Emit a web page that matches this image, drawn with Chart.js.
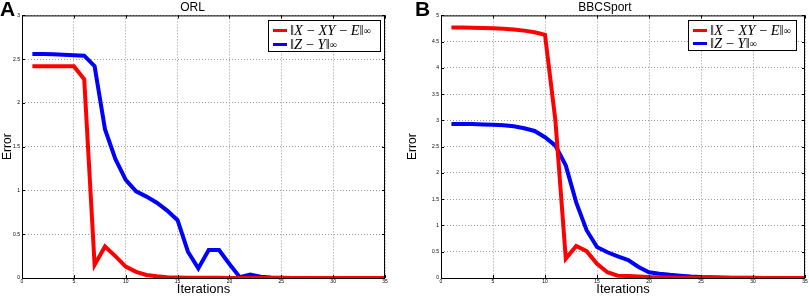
<!DOCTYPE html>
<html>
<head>
<meta charset="utf-8">
<script src="https://cdn.jsdelivr.net/npm/chart.js@4.4.1/dist/chart.umd.min.js"></script>
<style>
  body { margin: 0; background: #fff; width: 809px; height: 297px; position: relative; overflow: hidden; }
  canvas { position: absolute; top: 0; }
  .letra { position: absolute; font: bold 21px "Liberation Sans", Arial, sans-serif; color: #000; }
  .leyenda { position: absolute; background: #fff; border: 1px solid #000; box-sizing: border-box;
             font: 14.5px "Liberation Serif", serif; color: #000; }
  .fila { position: absolute; left: 4px; height: 14px; display: flex; align-items: center; white-space: nowrap; }
  .fila span.raya { display: inline-block; width: 14px; height: 3px; margin-right: 3px; }
  .fila i { font-style: italic; }
  .fila sub { font-size: 10px; vertical-align: -3px; }
</style>
</head>
<body>
<canvas id="graficoORL" width="400" height="297" style="left:0;width:400px;height:297px"></canvas>
<canvas id="graficoBBC" width="404" height="297" style="left:405px;width:404px;height:297px"></canvas>
<div class="letra" style="left:0;top:-3px">A</div>
<div class="letra" style="left:415px;top:-3px">B</div>

<div class="leyenda" style="left:268px;top:20px;width:113px;height:32px">
  <div class="fila" style="top:2px"><span class="raya" style="background:#ff0000"></span>‖<i>X</i>&nbsp;−&nbsp;<i>XY</i>&nbsp;−&nbsp;<i>E</i>‖<sub>∞</sub></div>
  <div class="fila" style="top:16px"><span class="raya" style="background:#0000ff"></span>‖<i>Z</i>&nbsp;−&nbsp;<i>Y</i>‖<sub>∞</sub></div>
</div>
<div class="leyenda" style="left:688px;top:20px;width:109px;height:31px">
  <div class="fila" style="top:2px"><span class="raya" style="background:#ff0000"></span>‖<i>X</i>&nbsp;−&nbsp;<i>XY</i>&nbsp;−&nbsp;<i>E</i>‖<sub>∞</sub></div>
  <div class="fila" style="top:15px"><span class="raya" style="background:#0000ff"></span>‖<i>Z</i>&nbsp;−&nbsp;<i>Y</i>‖<sub>∞</sub></div>
</div>

<script>
// Iteraciones (eje x)
const iteraciones = [1,2,3,4,5,6,7,8,9,10,11,12,13,14,15,16,17,18,19,20,21,22,23,24,25,26,27,28,29,30,31,32,33,34,35];

// ORL
const orlXE = [2.42,2.42,2.42,2.42,2.42,2.27,0.15,0.36,0.25,0.13,0.07,0.035,0.02,0.01,0.006,0.004,0.003,0.002,0.002,0.001,0.001,0.001,0.0005,0,0,0,0,0,0,0,0,0,0,0,0];
const orlZY = [2.56,2.56,2.555,2.55,2.545,2.54,2.42,1.70,1.36,1.12,0.99,0.93,0.86,0.77,0.66,0.30,0.11,0.32,0.32,0.16,0.01,0.04,0.015,0.005,0.002,0,0,0,0,0,0,0,0,0,0];

// BBCSport
const bbcXE = [4.77,4.77,4.765,4.76,4.755,4.745,4.73,4.71,4.68,4.63,3.0,0.37,0.61,0.51,0.27,0.11,0.045,0.04,0.03,0.02,0.015,0.01,0.006,0.004,0.003,0.002,0.001,0.001,0,0,0,0,0,0,0];
const bbcZY = [2.93,2.93,2.93,2.925,2.92,2.91,2.89,2.85,2.80,2.68,2.52,2.14,1.44,0.91,0.59,0.49,0.41,0.34,0.21,0.11,0.08,0.06,0.045,0.03,0.02,0.015,0.01,0.007,0.005,0.003,0.002,0.001,0.001,0,0];

const etiquetas = ['‖X − XY − E‖∞', '‖Z − Y‖∞'];

// Marco y marcas interiores al estilo MATLAB
const marco = {
    id: 'marco',
    afterDraw(chart) {
        const { ctx, chartArea: a, scales } = chart;
        ctx.save();
        ctx.strokeStyle = '#000';
        ctx.lineWidth = 1;
        ctx.strokeRect(a.left + 0.5, a.top + 0.5, a.right - a.left - 1, a.bottom - a.top);
        ctx.beginPath();
        scales.x.ticks.forEach(t => {
            const px = Math.round(scales.x.getPixelForValue(t.value)) + 0.5;
            ctx.moveTo(px, a.bottom); ctx.lineTo(px, a.bottom - 3);
            ctx.moveTo(px, a.top); ctx.lineTo(px, a.top + 3);
        });
        scales.y.ticks.forEach(t => {
            const py = Math.round(scales.y.getPixelForValue(t.value)) + 0.5;
            ctx.moveTo(a.left, py); ctx.lineTo(a.left + 3, py);
            ctx.moveTo(a.right, py); ctx.lineTo(a.right - 3, py);
        });
        ctx.stroke();
        ctx.restore();
    }
};

function puntos(valores) {
    return iteraciones.map((it, i) => ({ x: it, y: valores[i] }));
}

function crearGrafico(id, titulo, serieXE, serieZY, yMax, anchoY, padDerecho) {
    const ctx = document.getElementById(id).getContext('2d');
    return new Chart(ctx, {
        type: 'line',
        data: {
            datasets: [
                { label: etiquetas[0], data: puntos(serieXE), borderColor: '#ff0000', borderWidth: 4, pointRadius: 0, tension: 0, fill: false },
                { label: etiquetas[1], data: puntos(serieZY), borderColor: '#0000ff', borderWidth: 4, pointRadius: 0, tension: 0, fill: false }
            ]
        },
        options: {
            responsive: false,
            animation: false,
            layout: { padding: { left: 0, right: padDerecho, top: 0, bottom: 0 } },
            plugins: {
                legend: { display: false },
                tooltip: { enabled: false },
                title: {
                    display: true, text: titulo, color: '#000',
                    font: { family: 'Liberation Sans', size: 12, weight: 'normal' },
                    padding: { top: 0, bottom: 1 }
                }
            },
            scales: {
                x: {
                    type: 'linear', min: 0, max: 35,
                    afterFit(s) { s.height = 19; },
                    ticks: { stepSize: 5, color: '#000', font: { family: 'Liberation Sans', size: 5 }, padding: 1, maxRotation: 0 },
                    grid: { color: '#9a9a9a', lineWidth: 1, drawTicks: false },
                    border: { display: false, dash: [1, 2] },
                    title: { display: true, text: 'Iterations', color: '#000', font: { family: 'Liberation Sans', size: 13 }, padding: { top: 0, bottom: 0 } }
                },
                y: {
                    min: 0, max: yMax,
                    afterFit(s) { s.width = anchoY; },
                    ticks: { stepSize: 0.5, color: '#000', font: { family: 'Liberation Sans', size: 5 }, padding: 2,
                             callback: v => String(v) },
                    grid: { color: '#9a9a9a', lineWidth: 1, drawTicks: false },
                    border: { display: false, dash: [1, 2] },
                    title: { display: true, text: 'Error', color: '#000', font: { family: 'Liberation Sans', size: 12 }, padding: { top: 0, bottom: 0 } }
                }
            }
        },
        plugins: [marco]
    });
}

crearGrafico('graficoORL', 'ORL', orlXE, orlZY, 3, 22, 15);
crearGrafico('graficoBBC', 'BBCSport', bbcXE, bbcZY, 5, 36, 4);
</script>
</body>
</html>
